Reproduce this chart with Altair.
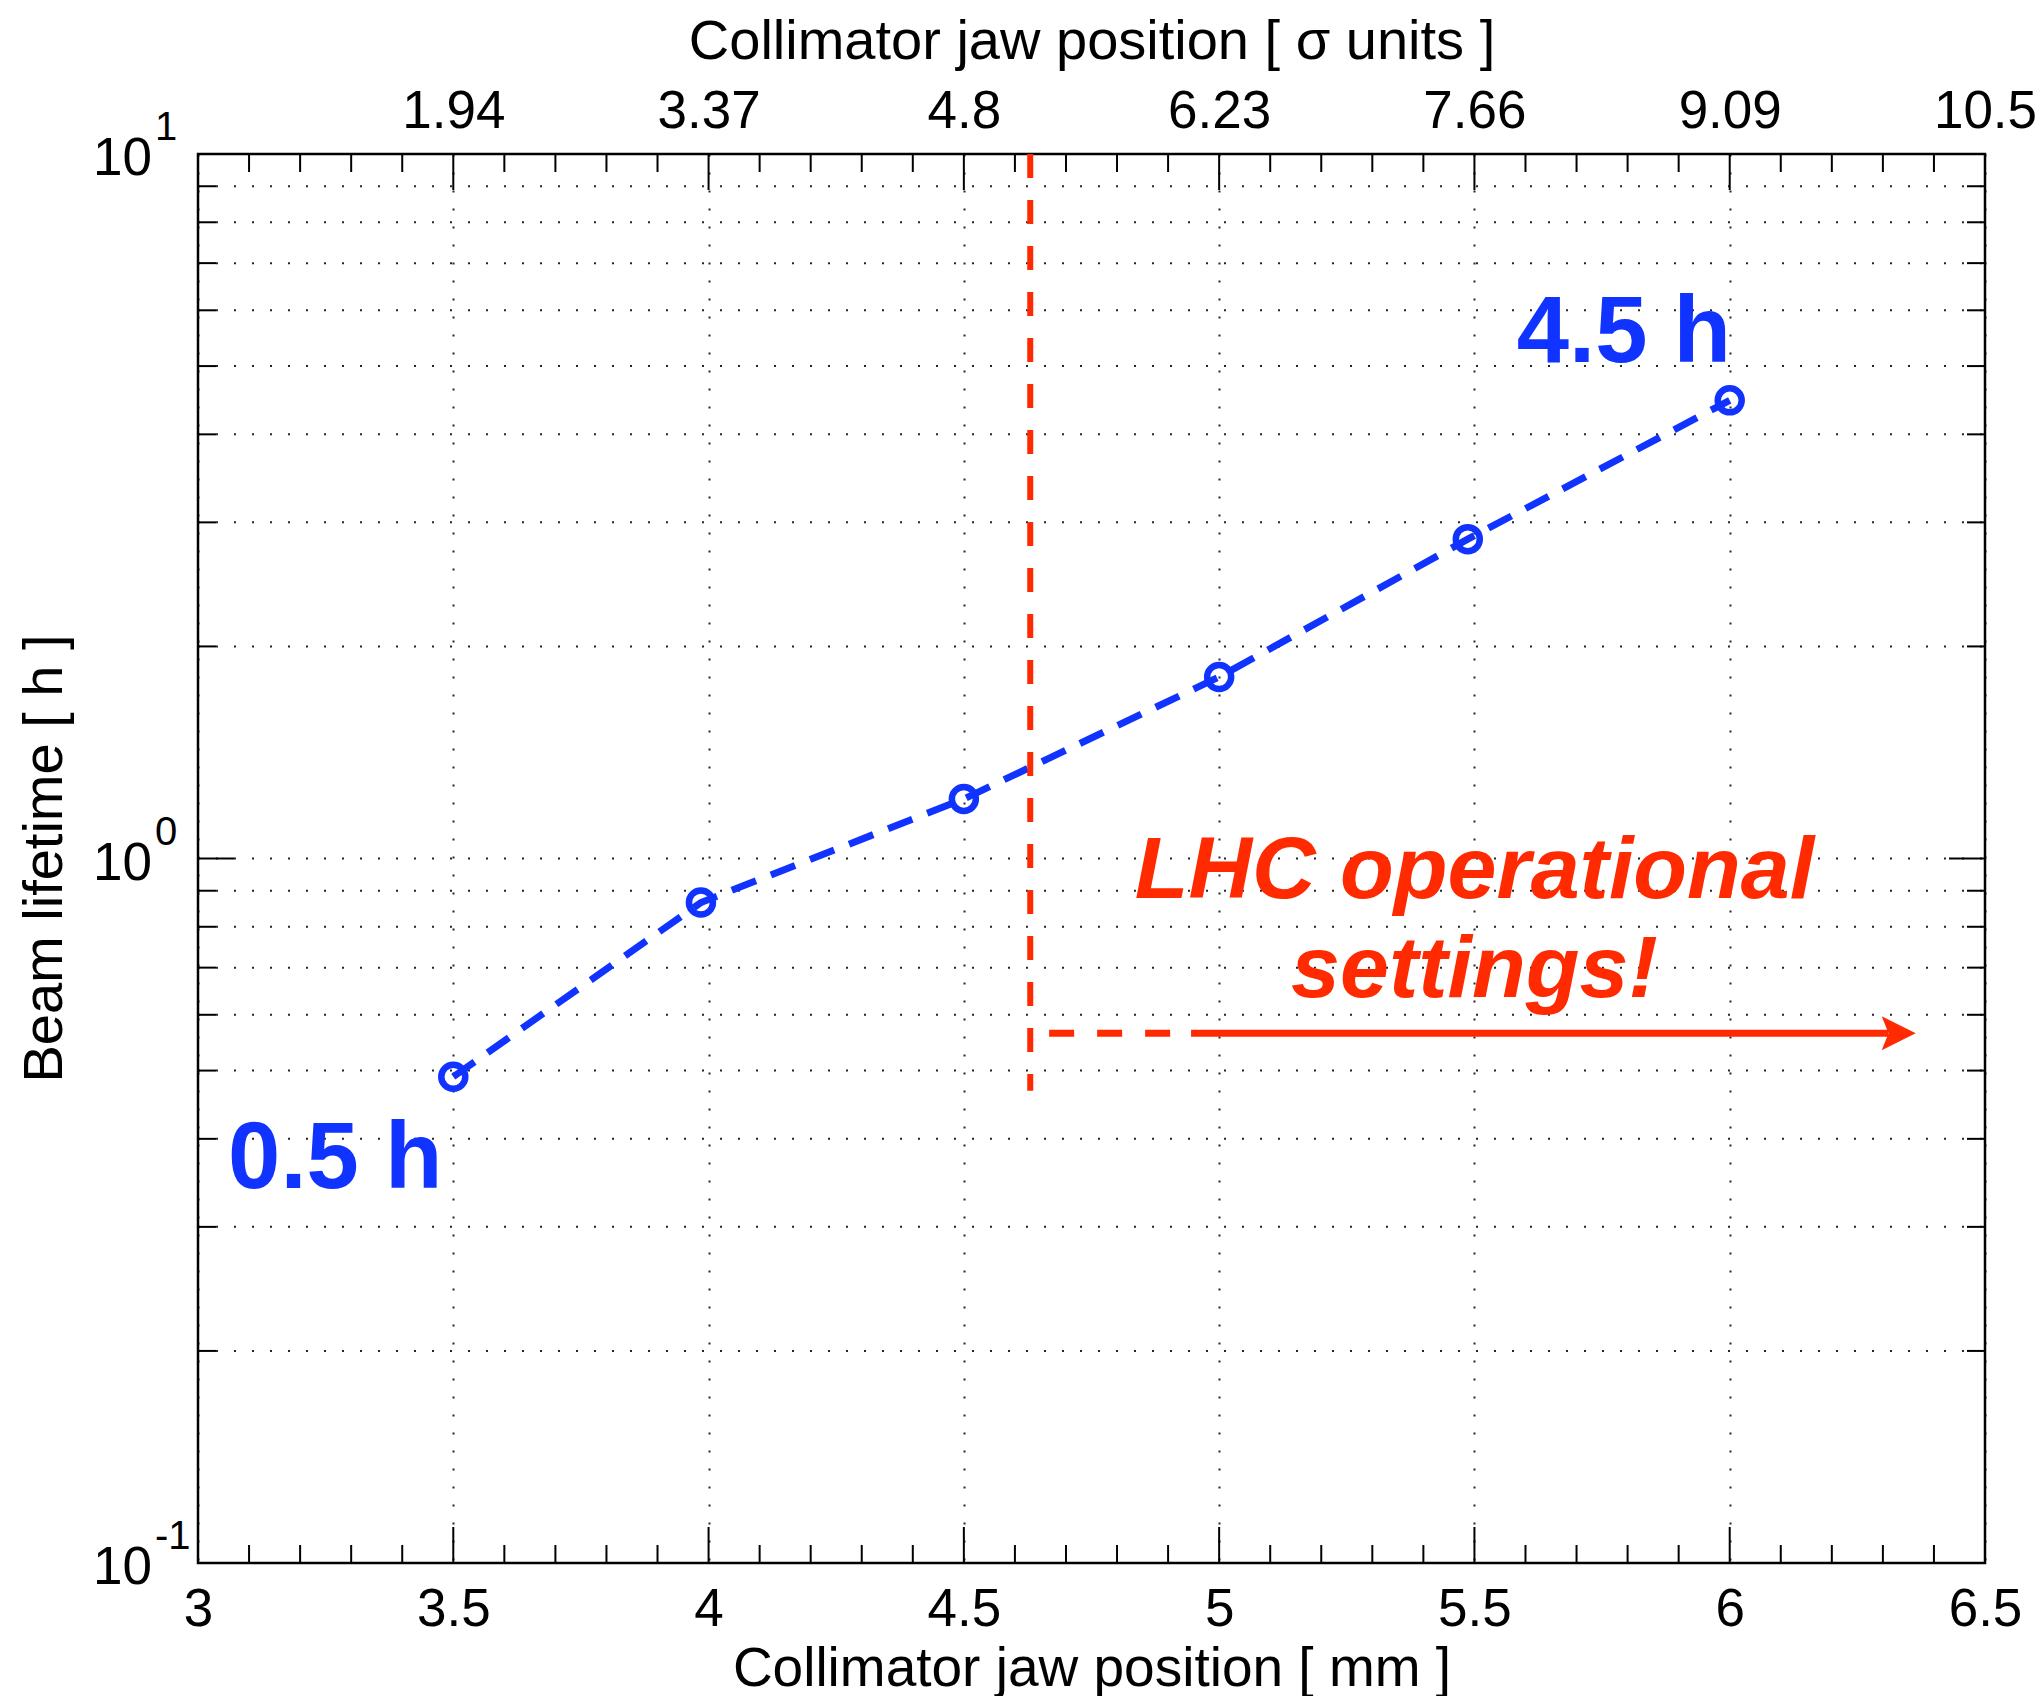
import json
import altair as alt
import pandas as pd

# ---------------- data ----------------
jaw_mm = [3.5, 3.985, 4.5, 5.0, 5.487, 6.0]
lifetime_h = [0.49, 0.866, 1.215, 1.81, 2.84, 4.47]

x_major = [3.0, 3.5, 4.0, 4.5, 5.0, 5.5, 6.0, 6.5]
x_labels_bottom = ["3", "3.5", "4", "4.5", "5", "5.5", "6", "6.5"]
x_labels_top = ["", "1.94", "3.37", "4.8", "6.23", "7.66", "9.09", "10.5"]
x_minor = [3.1, 3.2, 3.3, 3.4, 3.6, 3.7, 3.8, 3.9, 4.1, 4.2, 4.3, 4.4,
           4.6, 4.7, 4.8, 4.9, 5.1, 5.2, 5.3, 5.4, 5.6, 5.7, 5.8, 5.9,
           6.1, 6.2, 6.3, 6.4]
y_major = [0.1, 1, 10]
y_exponents = ["-1", "0", "1"]
y_minor = [0.2, 0.3, 0.4, 0.5, 0.6, 0.7, 0.8, 0.9, 2, 3, 4, 5, 6, 7, 8, 9]
y_title = "Beam lifetime [ h ]"

# operational-settings marker
op_x = [4.63]
op_y_top = [10]
op_y_bottom = [0.468]
arrow_y = [0.565]
arrow_dash_x = [4.667]
arrow_dash_x2 = [4.904]
arrow_solid_x = [4.945]
arrow_solid_x2 = [6.31]
arrow_head_x = [6.331]

blue_texts = ["4.5 h", "0.5 h"]
blue_text_x = [5.583, 3.059]
blue_text_y = [5.07, 0.3405]
red_texts = ["LHC operational", "settings!"]
red_text_x = [5.5, 5.5]
red_text_y = [0.879, 0.635]

# ---------------- styling ----------------
W, H = 1787, 1409
FONT = "Liberation Sans"
BLUE = "#1033ff"
RED = "#ff2a00"
MAJOR_LEN, MINOR_LEN = 36, 18
GRID_DASH = [2, 16]

xs = alt.Scale(domain=[3, 6.5], nice=False, zero=False)
ys = alt.Scale(type="log", domain=[0.1, 10], nice=False)

bottom_expr = f"{json.dumps(x_labels_bottom)}[round((datum.value - 3) / 0.5)]"
top_expr = f"{json.dumps(x_labels_top)}[round((datum.value - 3) / 0.5)]"

series = pd.DataFrame({"mm": jaw_mm, "h": lifetime_h})

# horizontal dotted grid (log minor + major)
hgrid = alt.Chart(pd.DataFrame({"v": y_major + y_minor})).mark_rule(
    color="black", strokeWidth=2, strokeDash=GRID_DASH, opacity=0.85
).encode(y=alt.Y("v:Q", scale=ys, axis=None), x=alt.value(0), x2=alt.value(W))

line = alt.Chart(series).mark_line(
    color=BLUE, strokeWidth=7, strokeDash=[26, 16], strokeCap="butt"
).encode(
    x=alt.X("mm:Q", scale=xs, axis=alt.Axis(
        orient="bottom", values=x_major, labelExpr=bottom_expr,
        title="Collimator jaw position [ mm ]", ticks=False, domain=False,
        labelFont=FONT, labelFontSize=53, labelColor="black", labelPadding=62,
        labelBaseline="alphabetic", labelFlush=False, labelOverlap=False,
        titleFont=FONT, titleFontSize=55, titleFontWeight="normal", titleColor="black",
        titleY=122, titleBaseline="alphabetic",
        grid=True, gridDash=GRID_DASH, gridColor="black", gridWidth=2, gridOpacity=0.85)),
    y=alt.Y("h:Q", scale=ys, axis=None),
)

points = alt.Chart(series).mark_point(
    shape="circle", filled=False, size=576, strokeWidth=6.5, color=BLUE, opacity=1
).encode(
    x=alt.X("mm:Q", scale=xs, axis=alt.Axis(
        orient="top", values=x_major, labelExpr=top_expr,
        title="Collimator jaw position [ σ units ]", ticks=False, domain=False, grid=False,
        labelFont=FONT, labelFontSize=53, labelColor="black", labelPadding=27,
        labelBaseline="alphabetic", labelFlush=False, labelOverlap=False,
        titleFont=FONT, titleFontSize=56, titleFontWeight="normal", titleColor="black",
        titleY=-96, titleBaseline="alphabetic")),
    y=alt.Y("h:Q", scale=ys, axis=None),
)


def x_ticks(vals, length, top):
    df = pd.DataFrame({"v": vals})
    y0 = 0 if top else H
    y1 = length if top else H - length
    return alt.Chart(df).mark_rule(color="black", strokeWidth=2).encode(
        x=alt.X("v:Q", scale=xs, axis=None), y=alt.value(y0), y2=alt.value(y1))


def y_ticks(vals, length, right):
    df = pd.DataFrame({"v": vals})
    x0 = W if right else 0
    x1 = W - length if right else length
    return alt.Chart(df).mark_rule(color="black", strokeWidth=2).encode(
        y=alt.Y("v:Q", scale=ys, axis=None), x=alt.value(x0), x2=alt.value(x1))


ticks = [
    x_ticks(x_major, MAJOR_LEN, False), x_ticks(x_minor, MINOR_LEN, False),
    x_ticks(x_major, MAJOR_LEN, True), x_ticks(x_minor, MINOR_LEN, True),
    y_ticks(y_major, MAJOR_LEN, False), y_ticks(y_minor, MINOR_LEN, False),
    y_ticks(y_major, MAJOR_LEN, True), y_ticks(y_minor, MINOR_LEN, True),
]

ylab_df = pd.DataFrame({"v": y_major, "e": y_exponents})
ylab_base = alt.Chart(ylab_df).mark_text(
    text="10", font=FONT, fontSize=53, color="black", align="right", baseline="alphabetic", dy=21
).encode(y=alt.Y("v:Q", scale=ys, axis=None), x=alt.value(-46))
ylab_exp = alt.Chart(ylab_df).mark_text(
    font=FONT, fontSize=40, color="black", align="left", baseline="alphabetic", dy=-14
).encode(y=alt.Y("v:Q", scale=ys, axis=None), x=alt.value(-43), text="e:N")

ytitle = alt.Chart(pd.DataFrame({"t": [y_title]})).mark_text(
    font=FONT, fontSize=56, color="black", angle=270, align="center", baseline="alphabetic"
).encode(x=alt.value(-136), y=alt.value(H / 2), text="t:N")

# red operational marker
op_df = pd.DataFrame({"x": op_x, "y1": op_y_top, "y2": op_y_bottom})
op_rule = alt.Chart(op_df).mark_rule(color=RED, strokeWidth=6, strokeDash=[24, 22], strokeCap="butt").encode(
    x=alt.X("x:Q", scale=xs, axis=None), y=alt.Y("y1:Q", scale=ys, axis=None), y2="y2:Q")

dash_df = pd.DataFrame({"x": arrow_dash_x, "x2": arrow_dash_x2, "y": arrow_y})
arrow_dash = alt.Chart(dash_df).mark_rule(color=RED, strokeWidth=7, strokeDash=[25, 23], strokeCap="butt").encode(
    x=alt.X("x:Q", scale=xs, axis=None), x2="x2:Q", y=alt.Y("y:Q", scale=ys, axis=None))

solid_df = pd.DataFrame({"x": arrow_solid_x, "x2": arrow_solid_x2, "y": arrow_y})
arrow_solid = alt.Chart(solid_df).mark_rule(color=RED, strokeWidth=7, strokeCap="butt").encode(
    x=alt.X("x:Q", scale=xs, axis=None), x2="x2:Q", y=alt.Y("y:Q", scale=ys, axis=None))

head_df = pd.DataFrame({"x": arrow_head_x, "y": arrow_y})
arrow_head = alt.Chart(head_df).mark_point(
    shape="M-1,-1L1,0L-1,1L-0.6,0Z", filled=True, size=1156, color=RED, opacity=1, strokeWidth=0
).encode(x=alt.X("x:Q", scale=xs, axis=None), y=alt.Y("y:Q", scale=ys, axis=None))

blue_df = pd.DataFrame({"t": blue_texts, "x": blue_text_x, "y": blue_text_y})
blue_txt = alt.Chart(blue_df).mark_text(
    font=FONT, fontSize=94, fontWeight="bold", color=BLUE, align="left", baseline="alphabetic"
).encode(x=alt.X("x:Q", scale=xs, axis=None), y=alt.Y("y:Q", scale=ys, axis=None), text="t:N")

red_df = pd.DataFrame({"t": red_texts, "x": red_text_x, "y": red_text_y})
red_txt = alt.Chart(red_df).mark_text(
    font=FONT, fontSize=88, fontWeight="bold", fontStyle="italic", color=RED,
    align="center", baseline="alphabetic"
).encode(x=alt.X("x:Q", scale=xs, axis=None), y=alt.Y("y:Q", scale=ys, axis=None), text="t:N")

chart = alt.layer(
    hgrid, line, *ticks, op_rule, arrow_dash, arrow_solid, arrow_head, points,
    ylab_base, ylab_exp, ytitle, blue_txt, red_txt
).resolve_axis(x="independent").properties(
    width=W, height=H,
    autosize=alt.AutoSizeParams(type="none"),
    padding={"left": 198, "top": 154, "right": 57, "bottom": 133},
    background="white",
).configure_view(stroke="black", strokeWidth=2.5)

chart.save("out.html", embed_options={"renderer": "svg", "actions": False})
